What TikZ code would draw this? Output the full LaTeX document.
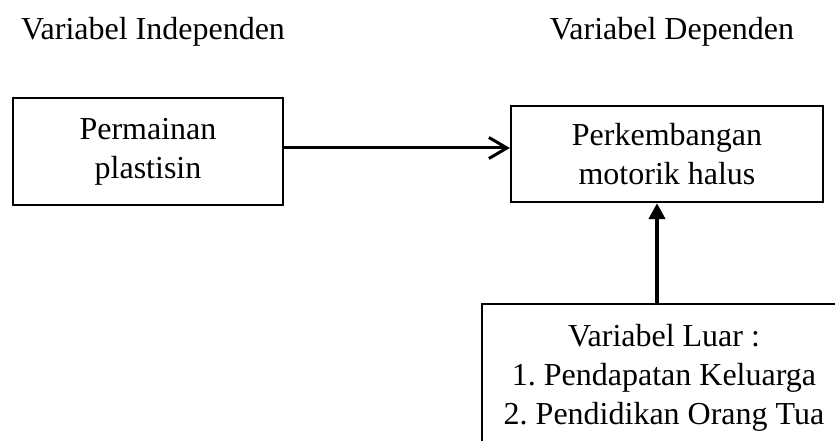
\documentclass[tikz,border=0pt]{standalone}
\usepackage{fontspec}
\setmainfont{Liberation Serif}
\usetikzlibrary{arrows.meta}
\frenchspacing

\begin{document}
\begin{tikzpicture}[x=1pt,y=-1pt, font=\fontsize{32}{39}\selectfont,
box/.style={draw,line width=2.2pt,align=center,inner sep=0pt},
arrbarb/.style={line width=3pt,-{Straight Barb[length=18pt,width=21pt,line width=3pt]}},
arrtri/.style={line width=4pt,-{Triangle[length=16pt,width=16pt]}}]
\clip (0,0) rectangle (835,441);

\node[anchor=base] at (153,40)(indep) {Variabel Independen};
\node[anchor=base] at (672,40)(dep) {Variabel Dependen};

\node[box,minimum width=270pt,minimum height=107pt] at (148,151.5)(plastisin) {Permainan\\plastisin};
\node[box,minimum width=312pt,minimum height=96pt] at (667,154)(motorik) {Perkembangan\\motorik halus};
\node[box,anchor=north,minimum width=364pt,inner ysep=20pt] at (664,303)(luar) {Variabel Luar :\\1. Pendapatan Keluarga\\2. Pendidikan Orang Tua};

\draw[arrbarb] ([yshift=3.5pt]plastisin.east) -- ([yshift=3.5pt]plastisin.east -| motorik.west);
\draw[arrtri] ([xshift=-7pt]luar.north) -- ([xshift=-7pt]luar.north |- motorik.south);

\end{tikzpicture}
\end{document}
